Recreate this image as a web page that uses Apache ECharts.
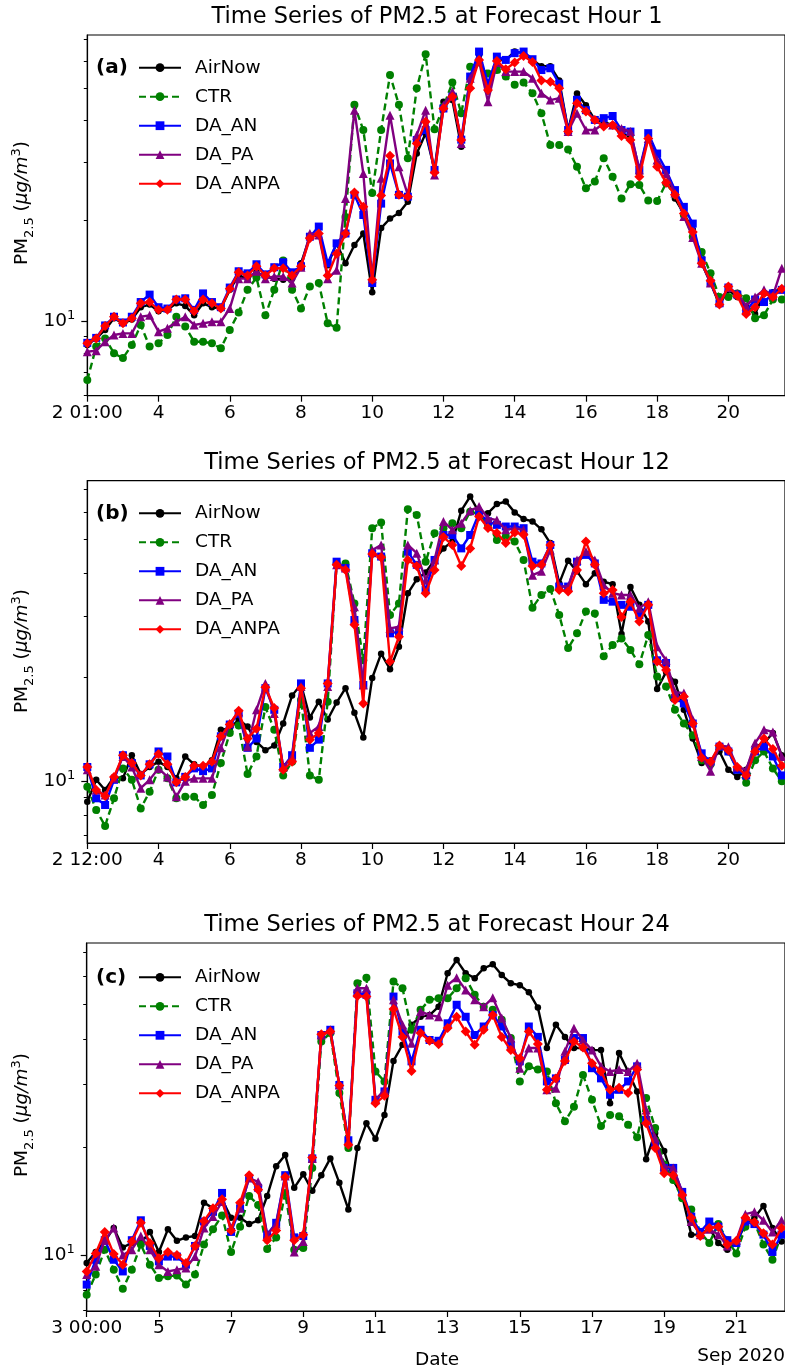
<!DOCTYPE html>
<html><head><meta charset="utf-8">
<script src="https://cdn.jsdelivr.net/npm/echarts@6/dist/echarts.min.js"></script>
<style>html,body{margin:0;padding:0;background:#fff;overflow:hidden}#c{width:785px;height:1371px}</style>
</head><body><div id="c"></div><script>
const seriesNames = ['AirNow', 'CTR', 'DA_AN', 'DA_PA', 'DA_ANPA'];
const panelTitles = ['Time Series of PM2.5 at Forecast Hour 1', 'Time Series of PM2.5 at Forecast Hour 12', 'Time Series of PM2.5 at Forecast Hour 24'];
const panelTags = ['(a)', '(b)', '(c)'];
const xTickLabelsA = ['2 01:00', '4', '6', '8', '10', '12', '14', '16', '18', '20'];
const xTickLabelsB = ['2 12:00', '4', '6', '8', '10', '12', '14', '16', '18', '20'];
const xTickLabelsC = ['3 00:00', '5', '7', '9', '11', '13', '15', '17', '19', '21'];
const xTickSteps = [0, 8, 16, 24, 32, 40, 48, 56, 64, 72];
const yMajorTicks = [10];
const yMinorTicks = [6, 7, 8, 9, 20, 30, 40, 50, 60, 70];

// Panel (a): forecast hour 1, 6-hourly
const a_AirNow = [8.47, 8.87, 9.4, 10.2, 9.84, 10.1, 11.0, 11.2, 10.7, 10.8,
  11.3, 11.1, 10.4, 11.3, 11.0, 10.9, 12.4, 13.7, 13.4, 14.0,
  13.6, 13.4, 13.3, 13.4, 14.9, 17.9, 18.1, 14.7, 17.1, 14.9,
  16.9, 18.3, 12.2, 19.0, 20.3, 21.1, 22.8, 31.8, 36.6, 28.4,
  45.5, 46.0, 33.3, 54.1, 62.8, 48.8, 60.7, 60.7, 64.3, 63.6,
  60.7, 58.1, 58.1, 52.7, 37.4, 48.1, 44.4, 40.1, 39.6, 38.7,
  36.6, 35.7, 27.7, 36.6, 29.7, 28.1, 23.3, 21.0, 18.8, 14.9,
  13.0, 11.2, 12.4, 11.8, 11.0, 10.5, 12.1, 12.2, 12.5];
const a_CTR = [6.65, 8.38, 8.87, 8.0, 7.74, 8.47, 9.73, 8.38, 8.57, 9.08,
  10.3, 9.62, 8.67, 8.67, 8.57, 8.28, 9.40, 10.6, 12.4, 13.5,
  10.4, 12.4, 15.2, 12.4, 10.9, 12.7, 13.0, 9.84, 9.55, 20.5,
  44.5, 37.4, 24.2, 37.4, 54.7, 44.5, 30.8, 49.9, 63.1, 37.6,
  43.9, 51.9, 42.0, 57.9, 59.6, 55.3, 56.6, 54.1, 51.1, 51.9,
  48.2, 42.0, 33.7, 33.7, 32.7, 29.0, 25.0, 26.2, 30.8, 27.1,
  23.3, 25.7, 25.6, 23.0, 22.9, 25.9, 23.9, 20.8, 17.9, 16.1,
  13.9, 11.8, 11.8, 12.1, 11.7, 10.2, 10.4, 11.6, 11.6];
const a_DA_AN = [8.6, 8.9, 9.7, 10.3, 9.9, 10.3, 11.4, 12.0, 11.0, 10.9,
  11.6, 11.7, 10.8, 12.1, 11.4, 11.0, 12.6, 14.1, 13.9, 14.8,
  13.8, 14.5, 15.0, 14.0, 14.6, 17.9, 19.2, 14.9, 17.1, 18.3,
  23.9, 20.8, 13.0, 22.5, 29.7, 23.9, 23.6, 34.9, 37.4, 28.4,
  43.4, 47.1, 35.0, 54.1, 64.3, 51.5, 62.1, 60.7, 63.6, 64.3,
  61.0, 56.6, 57.3, 51.5, 37.4, 46.1, 42.9, 40.1, 40.6, 41.2,
  37.4, 37.0, 28.4, 36.6, 31.8, 28.4, 24.7, 22.0, 19.6, 15.2,
  13.0, 11.3, 12.6, 12.0, 10.7, 11.6, 11.4, 12.1, 12.4];
const a_DA_PA = [8.09, 8.15, 8.67, 9.08, 9.18, 9.18, 10.3, 10.4, 9.29, 9.51,
  9.95, 10.3, 9.73, 9.84, 9.95, 9.95, 10.9, 13.4, 13.4, 14.1,
  13.4, 13.6, 13.6, 13.0, 14.5, 18.3, 18.1, 13.4, 14.2, 23.3,
  42.9, 27.7, 13.4, 26.8, 41.4, 29.0, 23.9, 36.1, 42.9, 27.4,
  44.4, 48.8, 34.1, 53.5, 60.1, 45.5, 59.6, 56.0, 56.0, 56.0,
  53.5, 48.2, 46.0, 46.6, 37.0, 42.0, 37.4, 37.4, 39.2, 38.7,
  37.8, 37.0, 28.4, 35.3, 30.4, 27.7, 24.2, 20.6, 17.8, 14.9,
  13.0, 11.4, 12.6, 12.1, 11.1, 11.8, 12.4, 11.9, 14.4];
const a_DA_ANPA = [8.57, 8.87, 9.66, 10.3, 9.84, 10.2, 11.3, 11.4, 10.8, 10.8,
  11.6, 11.6, 10.7, 11.6, 11.3, 10.9, 12.5, 14.0, 13.7, 14.6,
  13.7, 14.4, 14.4, 13.7, 14.6, 17.7, 18.3, 13.7, 15.9, 18.3,
  24.3, 22.0, 13.3, 23.8, 31.3, 23.9, 23.6, 34.1, 39.6, 27.9,
  43.4, 47.1, 34.9, 49.9, 60.7, 49.3, 60.3, 56.9, 59.6, 62.4,
  59.8, 52.7, 52.2, 49.9, 37.0, 45.0, 42.5, 40.1, 38.3, 38.7,
  35.9, 34.9, 27.1, 35.3, 29.0, 26.0, 23.9, 21.0, 18.5, 14.9,
  13.2, 11.2, 12.7, 11.9, 10.5, 11.0, 12.1, 11.8, 12.5];

// Panel (b): forecast hour 12
const b_AirNow = [8.73, 10.1, 9.44, 10.3, 10.2, 11.9, 10.5, 11.0, 11.4, 11.0,
  10.2, 11.8, 11.2, 11.0, 11.5, 14.1, 14.2, 15.1, 14.4, 13.0,
  12.3, 12.7, 14.7, 17.7, 19.1, 15.3, 17.0, 15.1, 16.9, 18.6,
  15.8, 13.4, 19.9, 23.4, 21.1, 24.5, 35.0, 38.4, 40.2, 43.7,
  47.2, 49.4, 60.7, 66.7, 60.0, 59.7, 63.4, 64.5, 60.0, 57.4,
  56.5, 53.6, 48.9, 37.4, 43.5, 40.5, 37.2, 40.0, 37.8, 37.2,
  26.7, 36.5, 32.4, 29.0, 18.5, 20.7, 19.4, 16.1, 13.3, 11.3,
  11.5, 12.2, 10.8, 10.3, 10.8, 12.6, 12.9, 13.8, 11.9];
const b_CTR = [9.65, 8.26, 7.43, 8.93, 10.9, 10.1, 8.35, 9.33, 10.8, 10.2,
  8.93, 9.03, 9.03, 8.54, 9.13, 11.3, 13.8, 14.5, 10.5, 11.8,
  16.4, 14.1, 10.4, 11.4, 17.2, 10.4, 10.1, 17.0, 42.7, 42.7,
  32.7, 22.4, 54.0, 56.1, 30.3, 32.7, 61.3, 59.0, 43.2, 52.2,
  54.0, 55.8, 54.0, 60.3, 59.4, 55.2, 49.9, 51.1, 49.4, 43.7,
  31.8, 34.6, 36.0, 30.3, 24.3, 26.8, 31.0, 30.6, 23.0, 24.8,
  25.9, 24.0, 21.8, 26.5, 20.1, 18.8, 16.1, 14.7, 13.6, 11.5,
  11.2, 12.6, 12.2, 10.8, 9.91, 11.5, 12.2, 10.9, 10.0];
const b_DA_AN = [11.0, 8.93, 8.54, 10.1, 11.9, 11.3, 10.4, 11.2, 12.2, 11.8,
  9.93, 10.3, 10.9, 10.7, 10.9, 13.5, 14.6, 15.7, 12.5, 13.3,
  18.6, 16.1, 11.0, 11.9, 19.2, 12.5, 13.2, 19.2, 43.2, 41.4,
  29.3, 19.0, 45.7, 44.7, 26.8, 27.1, 46.2, 42.3, 35.8, 43.7,
  51.6, 51.6, 47.2, 51.6, 59.7, 56.5, 55.2, 54.6, 54.6, 54.0,
  43.2, 42.7, 48.3, 36.6, 36.6, 43.2, 45.2, 42.7, 33.5, 33.1,
  32.4, 32.0, 30.3, 32.4, 22.4, 22.0, 17.4, 16.8, 14.7, 12.05,
  11.4, 12.6, 12.2, 10.8, 10.4, 12.2, 12.6, 11.8, 10.4];
const b_DA_PA = [10.8, 9.44, 9.13, 10.2, 11.8, 11.0, 9.55, 10.1, 10.9, 10.3,
  9.03, 10.0, 10.2, 10.2, 10.2, 12.5, 14.7, 15.9, 12.6, 16.1,
  19.2, 15.7, 11.0, 11.8, 18.8, 13.8, 14.4, 18.8, 42.3, 41.4,
  32.0, 19.0, 46.7, 48.3, 27.7, 28.0, 48.3, 45.7, 38.2, 43.7,
  56.5, 53.4, 55.8, 60.7, 62.4, 57.7, 57.0, 53.4, 54.0, 53.4,
  39.5, 40.5, 46.7, 36.6, 36.6, 43.7, 46.2, 43.7, 37.0, 35.0,
  34.6, 34.6, 31.7, 33.1, 24.5, 22.4, 18.1, 18.0, 15.1, 11.8,
  10.7, 12.7, 12.6, 11.0, 10.8, 12.9, 14.1, 13.9, 11.8];
const b_DA_ANPA = [11.0, 9.44, 9.07, 10.3, 11.9, 11.3, 10.4, 11.2, 12.0, 11.2,
  9.93, 10.3, 11.1, 11.1, 11.4, 13.5, 14.6, 16.0, 13.3, 14.2,
  18.7, 16.3, 10.8, 11.4, 18.6, 13.2, 13.8, 19.2, 42.3, 40.9,
  28.4, 16.8, 45.5, 44.5, 22.2, 26.2, 43.7, 42.0, 35.0, 40.9,
  50.9, 48.3, 42.0, 47.2, 58.4, 54.1, 52.3, 48.9, 52.5, 51.7,
  42.0, 42.3, 48.3, 35.8, 35.4, 40.9, 49.4, 42.3, 35.0, 35.8,
  29.9, 33.1, 29.0, 32.4, 22.2, 21.0, 17.2, 17.6, 14.7, 11.7,
  11.4, 12.7, 12.3, 11.0, 10.4, 12.2, 13.3, 12.4, 11.1];

// Panel (c): forecast hour 24
const c_AirNow = [9.5, 10.2, 10.9, 11.9, 10.5, 10.8, 10.8, 11.6, 10.2, 11.8,
  10.96, 11.2, 11.3, 14.0, 13.5, 14.3, 12.7, 12.7, 12.2, 12.5,
  14.6, 17.7, 19.0, 15.4, 16.8, 15.1, 16.7, 18.6, 15.9, 13.4,
  19.9, 23.3, 21.1, 24.6, 34.8, 38.6, 43.9, 46.2, 46.7, 49.3,
  61.1, 66.5, 61.1, 59.2, 63.1, 64.7, 60.4, 57.3, 56.6, 54.1,
  49.0, 37.8, 43.9, 40.6, 37.8, 37.8, 37.3, 37.3, 26.5, 36.6,
  32.5, 28.6, 18.5, 21.9, 19.5, 16.2, 14.6, 11.4, 11.4, 11.9,
  10.8, 10.35, 10.8, 12.2, 12.7, 13.7, 11.9, 10.9];
const c_CTR = [7.75, 8.82, 10.35, 9.1, 8.05, 9.1, 10.7, 9.4, 8.63, 8.72,
  8.77, 8.27, 8.82, 10.7, 11.8, 12.9, 10.2, 12.0, 14.6, 13.8,
  10.4, 11.2, 14.9, 10.35, 10.46, 17.5, 39.4, 41.6, 28.3, 19.9,
  57.3, 59.4, 32.5, 30.5, 57.9, 55.5, 42.5, 48.3, 51.5, 52.0,
  52.0, 55.5, 59.2, 53.2, 49.3, 48.3, 45.3, 40.3, 30.5, 33.6,
  32.9, 32.5, 26.5, 23.6, 25.9, 31.8, 27.1, 22.9, 24.6, 24.4,
  23.1, 21.3, 27.4, 22.6, 17.9, 16.2, 14.4, 13.4, 11.6, 10.8,
  12.2, 11.0, 10.1, 12.0, 12.3, 10.7, 9.7, 11.4];
const c_DA_AN = [8.27, 9.7, 11.0, 9.7, 9.0, 11.0, 12.5, 10.6, 9.6, 9.9,
  9.9, 9.4, 10.6, 12.4, 13.2, 14.9, 11.6, 13.5, 16.4, 15.4,
  11.4, 12.3, 16.7, 11.2, 11.3, 18.6, 41.1, 42.5, 29.8, 20.9,
  53.7, 53.2, 27.1, 28.6, 52.6, 42.0, 34.7, 42.5, 39.8, 39.6,
  44.3, 49.9, 46.2, 41.1, 43.4, 46.7, 43.4, 38.6, 34.7, 43.4,
  40.6, 30.5, 31.1, 35.0, 40.3, 40.3, 33.2, 31.1, 28.0, 28.9,
  30.5, 33.6, 23.8, 20.3, 17.5, 17.5, 15.0, 12.8, 11.6, 12.4,
  12.0, 11.0, 10.8, 12.4, 12.2, 11.4, 10.2, 11.4];
const c_DA_PA = [8.82, 9.3, 11.0, 11.9, 10.0, 10.35, 11.3, 10.35, 9.4, 9.0,
  9.1, 9.2, 9.9, 11.9, 12.8, 14.1, 11.9, 13.5, 16.4, 16.0,
  11.4, 12.2, 16.6, 10.2, 10.9, 18.6, 41.1, 42.5, 29.8, 20.7,
  55.5, 55.5, 27.1, 28.9, 51.5, 43.9, 39.0, 47.8, 46.7, 46.2,
  56.6, 59.4, 54.9, 51.5, 49.3, 52.2, 45.8, 40.3, 33.2, 37.8,
  37.8, 28.9, 29.2, 37.0, 42.9, 39.8, 37.3, 33.6, 32.5, 32.9,
  32.5, 34.3, 25.4, 21.2, 17.7, 17.5, 15.0, 12.4, 11.4, 11.8,
  11.4, 10.6, 11.0, 13.0, 13.2, 12.5, 11.6, 12.5];
const c_DA_ANPA = [9.0, 10.1, 11.6, 10.06, 9.4, 10.9, 12.3, 10.8, 9.8, 10.2,
  10.0, 9.5, 10.6, 12.45, 13.5, 14.3, 11.7, 14.0, 16.7, 15.2,
  11.0, 11.7, 16.5, 11.0, 11.4, 18.7, 41.3, 42.0, 29.7, 20.3,
  52.8, 52.6, 26.5, 27.8, 48.6, 40.6, 32.6, 41.6, 39.6, 38.7,
  43.0, 46.2, 42.0, 38.6, 42.5, 46.7, 40.6, 37.3, 35.4, 42.0,
  38.8, 28.9, 31.1, 34.8, 39.4, 37.9, 34.3, 32.5, 28.9, 29.3,
  28.3, 32.9, 23.3, 19.9, 16.9, 16.7, 14.7, 12.7, 11.3, 11.9,
  12.0, 10.7, 10.96, 12.7, 12.35, 11.5, 10.7, 11.9];

const FONT = 'DejaVu Sans';
const styles = {
  AirNow:  { color: '#000000', symbol: 'circle', size: 6.5, dash: 'solid' },
  CTR:     { color: '#008000', symbol: 'circle', size: 8, dash: [7, 4] },
  DA_AN:   { color: '#0000ff', symbol: 'rect', size: 8, dash: 'solid' },
  DA_PA:   { color: '#800080', symbol: 'triangle', size: 9, dash: 'solid' },
  DA_ANPA: { color: '#ff0000', symbol: 'diamond', size: 10, dash: 'solid' }
};
const panels = [
  { data: [a_AirNow, a_CTR, a_DA_AN, a_DA_PA, a_DA_ANPA], ticks: xTickLabelsA,
    top: 35, height: 360.7, left: 87.3, width: 698.7, xmax: 78.36, ymin: 5.97, ymax: 72.1,
    titleY: 17, tagY: 67.7, ylabY: 203 },
  { data: [b_AirNow, b_CTR, b_DA_AN, b_DA_PA, b_DA_ANPA], ticks: xTickLabelsB,
    top: 480.7, height: 362.3, left: 87.3, width: 698.7, xmax: 78.36, ymin: 6.63, ymax: 74.1,
    titleY: 463, tagY: 513.3, ylabY: 651 },
  { data: [c_AirNow, c_CTR, c_DA_AN, c_DA_PA, c_DA_ANPA], ticks: xTickLabelsC,
    top: 943, height: 368, left: 86.7, width: 699.3, xmax: 77.39, ymin: 6.98, ymax: 74.2,
    titleY: 925, tagY: 977.3, ylabY: 1115 }
];

const grid = [], xAxis = [], yAxis = [], legend = [], series = [], graphic = [];
const axisLineStyle = { color: '#000', width: 1.2 };
panels.forEach((p, k) => {
  grid.push({ left: p.left, top: p.top, width: p.width, height: p.height, show: true, borderColor: '#000', borderWidth: 1.2, backgroundColor: 'transparent' });
  xAxis.push({
    type: 'value', gridIndex: k, min: 0, max: p.xmax,
    axisLine: { show: true, lineStyle: axisLineStyle },
    axisTick: { show: true, length: 6, lineStyle: axisLineStyle, customValues: xTickSteps },
    axisLabel: { show: true, customValues: xTickSteps, margin: 8, color: '#000', fontSize: 18.5, fontFamily: FONT,
      formatter: v => p.ticks[Math.round(v / 8)] },
    splitLine: { show: false }
  });
  yAxis.push({
    type: 'log', logBase: 10, gridIndex: k, position: 'left', min: p.ymin, max: p.ymax,
    axisLine: { show: true, lineStyle: axisLineStyle },
    axisTick: { show: true, length: 6, lineStyle: axisLineStyle, customValues: yMajorTicks },
    axisLabel: { show: true, customValues: yMajorTicks, margin: 12, color: '#000',
      formatter: () => '{b|10}{s|1}',
      rich: { b: { fontSize: 18.5, fontFamily: FONT, color: '#000', lineHeight: 24 },
              s: { fontSize: 13, fontFamily: FONT, color: '#000', lineHeight: 13, verticalAlign: 'top' } } },
    splitLine: { show: false }
  });
  yAxis.push({
    type: 'log', logBase: 10, gridIndex: k, position: 'left', min: p.ymin, max: p.ymax,
    axisLine: { show: false },
    axisTick: { show: true, length: 3.5, lineStyle: { color: '#000', width: 1 }, customValues: yMinorTicks },
    axisLabel: { show: false },
    splitLine: { show: false }
  });
  legend.push({
    data: seriesNames, orient: 'vertical', left: 138, top: p.tagY - 14.5, padding: 0,
    itemWidth: 42, itemHeight: 11, itemGap: 0, selectedMode: false,
    textStyle: { fontSize: 18.5, fontFamily: FONT, color: '#000', lineHeight: 29, padding: [0, 0, 0, 9] }
  });
  seriesNames.forEach((name, j) => {
    const st = styles[name];
    series.push({
      name, type: 'line', xAxisIndex: k, yAxisIndex: 2 * k,
      data: p.data[j].map((v, i) => [i, v]),
      symbol: st.symbol, symbolSize: st.size, showSymbol: true,
      lineStyle: { color: st.color, width: 2.4, type: st.dash },
      itemStyle: { color: st.color },
      z: 2 + j, animation: false, silent: true,
      emphasis: { disabled: true }
    });
  });
  graphic.push({ type: 'text', x: 437, y: p.titleY, style: { text: panelTitles[k], fill: '#000', font: '22.5px "DejaVu Sans"', align: 'center', verticalAlign: 'middle' } });
  graphic.push({ type: 'text', x: 96, y: p.tagY, style: { text: panelTags[k], fill: '#000', font: 'bold 20px "DejaVu Sans"', align: 'left', verticalAlign: 'middle' } });
  graphic.push({ type: 'text', x: 22, y: p.ylabY, rotation: Math.PI / 2,
    style: { text: '{a|PM}{s|2.5}{a| (}{i|μg/m}{p|3}{a|)}', align: 'center', verticalAlign: 'middle', fill: '#000',
      rich: {
        a: { fontSize: 18.5, fontFamily: FONT, fill: '#000', lineHeight: 28 },
        i: { fontSize: 18.5, fontFamily: FONT, fontStyle: 'italic', fill: '#000', lineHeight: 28 },
        s: { fontSize: 13, fontFamily: FONT, fill: '#000', lineHeight: 13, verticalAlign: 'bottom' },
        p: { fontSize: 13, fontFamily: FONT, fill: '#000', lineHeight: 15, verticalAlign: 'top', padding: [2, 0, 0, 0] }
      } } });
});
graphic.push({ type: 'text', x: 437, y: 1360, style: { text: 'Date', fill: '#000', font: '18.5px "DejaVu Sans"', align: 'center', verticalAlign: 'middle' } });
graphic.push({ type: 'text', x: 785, y: 1356, style: { text: 'Sep 2020', fill: '#000', font: '18.5px "DejaVu Sans"', align: 'right', verticalAlign: 'middle' } });

const chart = echarts.init(document.getElementById('c'), null, { renderer: 'canvas' });
chart.setOption({ animation: false, backgroundColor: '#fff', grid, xAxis, yAxis, legend, series, graphic });
</script></body></html>
